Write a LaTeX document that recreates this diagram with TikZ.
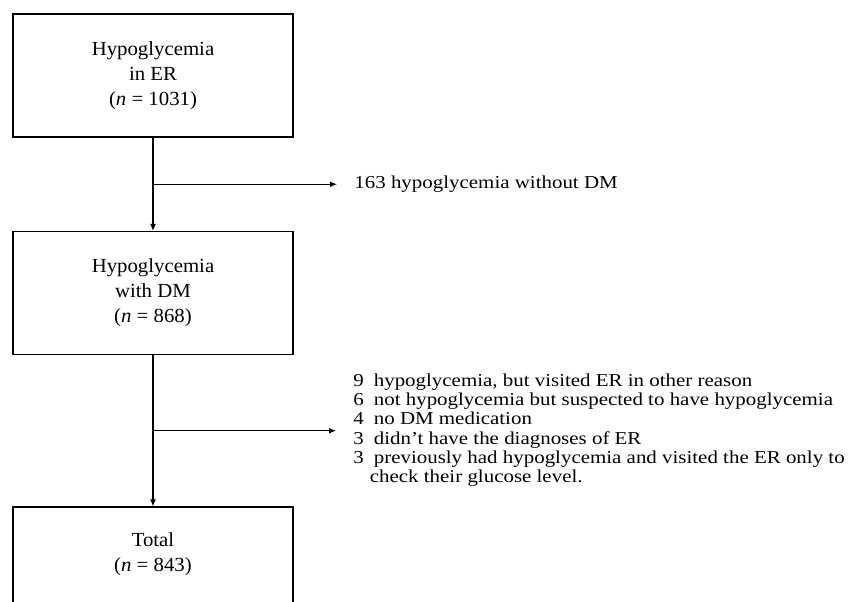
\documentclass[tikz,border=0pt]{standalone}
\usepackage{fontspec}
\setmainfont[FakeStretch=1.04]{Liberation Serif}
\newfontfamily\listfont[FakeStretch=1.15]{Liberation Serif}
\usepackage{tikz}
\usetikzlibrary{calc,arrows.meta}

\begin{document}
\begin{tikzpicture}[x=0.5pt, y=-0.5pt,
	box/.style={draw, line width=0.6pt, minimum width=140pt, minimum height=61.5pt,
		align=center, font=\fontsize{10}{12.5}\selectfont},
	note/.style={anchor=west, inner xsep=8.5pt, inner ysep=0pt, align=left,
		font=\listfont\fontsize{9.1}{9.6}\selectfont},
	flow/.style={line width=0.6pt, -{Latex[length=3.5pt, width=3pt]}}]

% frame %{{{2

	\useasboundingbox (0,0) rectangle (853,601);
	\clip (0,0) rectangle (853,601);

% boxes %{{{2

	\node[box] (hypoER) at (153,75.5) {Hypoglycemia\\in ER\\(\textit{n} = 1031)};
	\node[box] (hypoDM) at (153,293) {Hypoglycemia\\with DM\\(\textit{n} = 868)};
	\node[box] (total) at (153,568.5) {Total\\(\textit{n} = 843)\\\strut};

% branch points %{{{2

	\coordinate (B1) at ($(hypoER.south)!0.5!(hypoDM.north)$);
	\coordinate (B2) at ($(hypoDM.south)!0.5!(total.north)$);

% exclusions %{{{2

	\node[note] (excl1) at ($(B1)+(184,0)$) {163 hypoglycemia without DM};

	\node[note] (excl2) at ($(B2)+(183,0)$) {%
		\begin{tabular}{@{}r@{\hspace{5pt}}l@{}}
			9 & hypoglycemia, but visited ER in other reason\\
			6 & not hypoglycemia but suspected to have hypoglycemia\\
			4 & no DM medication\\
			3 & didn’t have the diagnoses of ER\\
			3 & previously had hypoglycemia and visited the ER only to\\
			  & \hspace*{-2pt}check their glucose level.
		\end{tabular}};

% connectors %{{{2

	\draw[flow] (hypoER) -- (hypoDM);
	\draw[flow] (hypoDM) -- (total);

	\draw[flow] (B1) -- (excl1.west);
	\draw[flow] (B2) -- (B2 -| excl2.west);

% closing %{{{2

\end{tikzpicture}
\end{document}
